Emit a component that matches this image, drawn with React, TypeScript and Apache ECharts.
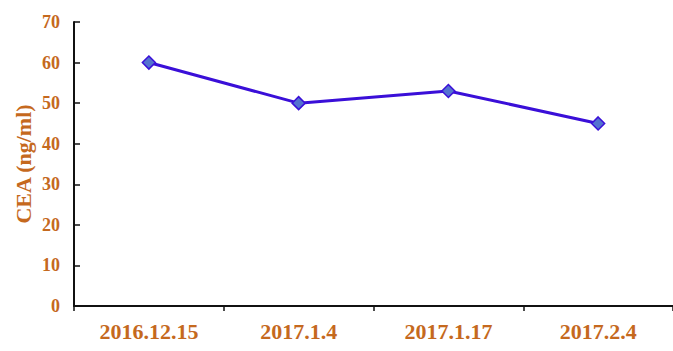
import React, { useEffect, useRef } from "react";
import * as echarts from "echarts";

const categories = ["2016.12.15", "2017.1.4", "2017.1.17", "2017.2.4"];
const ceaValues = [60, 50, 53, 45];
const yTicks = { min: 0, max: 70, interval: 10 };

const labelColor = "#C5691E";
const font = "'Liberation Serif', 'Times New Roman', serif";

export default function App() {
  const ref = useRef<HTMLDivElement>(null);
  useEffect(() => {
    if (!ref.current) return;
    const chart = echarts.init(ref.current, null, { renderer: "svg" });
    chart.setOption({
      animation: false,
      backgroundColor: "#ffffff",
      grid: { left: 74, right: 0, top: 22, bottom: 45 },
      xAxis: {
        type: "category",
        data: categories,
        boundaryGap: true,
        axisLine: { lineStyle: { color: "#111", width: 2 } },
        axisTick: { show: true, length: 5, lineStyle: { color: "#111", width: 1.5 } },
        axisLabel: {
          color: labelColor,
          fontFamily: font,
          fontWeight: "bold",
          fontSize: 22,
          margin: 14,
        },
        splitLine: { show: false },
      },
      yAxis: {
        type: "value",
        min: yTicks.min,
        max: yTicks.max,
        interval: yTicks.interval,
        name: "CEA (ng/ml)",
        nameLocation: "middle",
        nameGap: 40,
        nameRotate: 90,
        nameMoveOverlap: false,
        nameTextStyle: {
          color: labelColor,
          fontFamily: font,
          fontWeight: "bold",
          fontSize: 22,
        },
        axisLine: { show: true, lineStyle: { color: "#111", width: 2 } },
        axisTick: { show: true, inside: true, length: 6, lineStyle: { color: "#111", width: 1.5 } },
        axisLabel: {
          color: labelColor,
          fontFamily: font,
          fontWeight: "bold",
          fontSize: 18,
          margin: 14,
        },
        splitLine: { show: false },
      },
      series: [
        {
          type: "line",
          data: ceaValues,
          symbol: "diamond",
          symbolSize: 13,
          lineStyle: { color: "#3A0FD8", width: 3 },
          itemStyle: { color: "#5472D0", borderColor: "#3A0FD8", borderWidth: 1.5 },
        },
      ],
    });
    return () => chart.dispose();
  }, []);
  return (
    <div
      ref={ref}
      style={{ position: "fixed", left: 0, top: 0, width: 673, height: 351 }}
    />
  );
}
